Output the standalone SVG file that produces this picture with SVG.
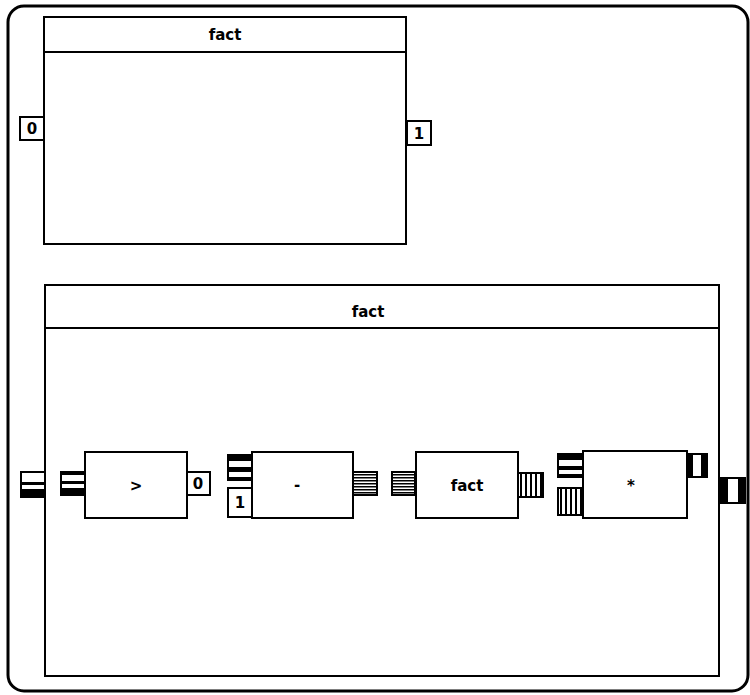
<svg xmlns="http://www.w3.org/2000/svg" width="750" height="695" viewBox="0 0 750 695">
<defs>
<pattern id="hstripe" width="4" height="3" patternUnits="userSpaceOnUse"><rect width="4" height="3" fill="#fff"/><rect y="0" width="4" height="1.5" fill="#000"/></pattern>
<pattern id="vstripe" width="5" height="4" patternUnits="userSpaceOnUse"><rect width="5" height="4" fill="#fff"/><rect x="0" width="2" height="4" fill="#000"/></pattern>
</defs>
<style>
.frame{fill:none;stroke:#000;stroke-width:3}
.panel{fill:#fff;stroke:#000;stroke-width:2}
.box{fill:#fff;stroke:#000;stroke-width:2}
.port{fill:#fff;stroke:#000;stroke-width:2}
.blk{fill:#000}
.hs{fill:url(#hstripe);stroke:#000;stroke-width:2}
.vs{fill:url(#vstripe);stroke:#000;stroke-width:2}
text{font-family:"DejaVu Sans",sans-serif;font-size:15px;font-weight:bold;fill:#000;text-anchor:middle;dominant-baseline:central}
</style>
<rect width="750" height="695" fill="#fff"/>
<rect class="frame" x="8" y="6" width="740" height="685" rx="16" ry="16"/>

<g id="top-panel">
<rect class="panel" x="44" y="17" width="362" height="227"/>
<line x1="44" y1="52" x2="406" y2="52" stroke="#000" stroke-width="2"/>
<text x="225" y="35">fact</text>
</g>
<g id="top-port-0">
<rect class="port" x="20" y="117" width="24" height="23"/>
<text x="32" y="129">0</text>
</g>
<g id="top-port-1">
<rect class="port" x="407" y="121" width="24" height="24"/>
<text x="419" y="134">1</text>
</g>

<g id="bottom-panel">
<rect class="panel" x="45" y="285" width="674" height="391"/>
<line x1="45" y1="328" x2="719" y2="328" stroke="#000" stroke-width="2"/>
<text x="368" y="312">fact</text>
</g>

<g id="outer-in-port">
<rect class="port" x="21" y="472" width="24" height="25"/>
<rect class="blk" x="21" y="482" width="24" height="3"/>
<rect class="blk" x="21" y="489" width="24" height="8"/>
</g>
<g id="outer-out-port">
<rect class="port" x="720" y="478" width="25" height="25"/>
<rect class="blk" x="720" y="478" width="8" height="25"/>
<rect class="blk" x="738" y="478" width="7" height="25"/>
</g>

<g id="node-gt">
<rect class="port" x="61" y="472" width="24" height="23"/>
<rect class="blk" x="61" y="472" width="24" height="3"/>
<rect class="blk" x="61" y="481" width="24" height="3"/>
<rect class="blk" x="61" y="488" width="24" height="7"/>
<rect class="box" x="85" y="452" width="102" height="66"/>
<text x="136" y="486">&gt;</text>
<rect class="port" x="187" y="472" width="23" height="23"/>
<text x="198" y="484">0</text>
</g>

<g id="node-minus">
<rect class="port" x="228" y="455" width="24" height="25"/>
<rect class="blk" x="228" y="455" width="24" height="6"/>
<rect class="blk" x="228" y="467" width="24" height="5"/>
<rect class="blk" x="228" y="477" width="24" height="3"/>
<rect class="port" x="228" y="488" width="24" height="29"/>
<text x="240" y="503">1</text>
<rect class="box" x="252" y="452" width="101" height="66"/>
<text x="297" y="485">-</text>
<rect class="hs" x="353" y="472" width="24" height="23"/>
</g>

<g id="node-fact">
<rect class="hs" x="392" y="472" width="23" height="23"/>
<rect class="box" x="416" y="452" width="102" height="66"/>
<text x="467" y="486">fact</text>
<rect class="vs" x="518" y="473" width="25" height="24"/>
</g>

<g id="node-mul">
<rect class="port" x="558" y="454" width="25" height="23"/>
<rect class="blk" x="558" y="454" width="25" height="6"/>
<rect class="blk" x="558" y="466" width="25" height="4"/>
<rect class="blk" x="558" y="474" width="25" height="3"/>
<rect class="vs" x="558" y="488" width="25" height="27"/>
<rect class="box" x="583" y="451" width="104" height="67"/>
<text x="631" y="486">*</text>
<rect class="port" x="687" y="454" width="20" height="23"/>
<rect class="blk" x="687" y="454" width="6" height="23"/>
<rect class="blk" x="701" y="454" width="6" height="23"/>
</g>

<g id="connectors"></g>
</svg>
